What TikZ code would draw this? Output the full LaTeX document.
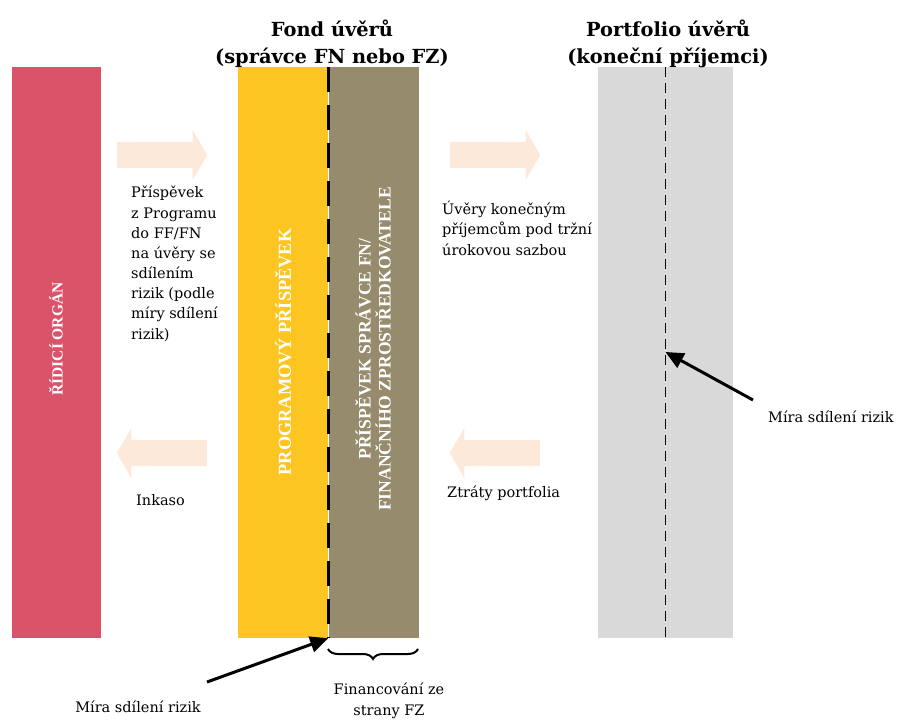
\documentclass[tikz,border=0pt]{standalone}
\usepackage{fontspec}
\setmainfont{Liberation Serif}
\newfontfamily\notefont{DejaVu Serif}
\usetikzlibrary{shapes.arrows,arrows.meta,decorations.pathreplacing}

\definecolor{orgred}{HTML}{DB5369}
\definecolor{progyellow}{HTML}{FDC521}
\definecolor{fmtaupe}{HTML}{968B6D}
\definecolor{portgray}{HTML}{D9D9D9}
\definecolor{flowpeach}{HTML}{FDE9D9}

\tikzset{
  bar/.style={inner sep=0pt, minimum height=571pt},
  vlabel/.style={rotate=90, text=white, font=\bfseries\fontsize{17.6}{20}\selectfont, align=center, inner sep=0pt},
  flow/.style={single arrow, fill=flowpeach, draw=none, inner xsep=0pt, inner ysep=13pt,
    minimum height=90pt, minimum width=0pt, single arrow head extend=12pt,
    single arrow tip angle=120, anchor=tail},
  note/.style={font=\notefont\fontsize{14.5}{20.2}\selectfont, align=left, inner sep=0pt, anchor=north west},
  title/.style={font=\notefont\bfseries\fontsize{19.4}{27}\selectfont, align=center, inner sep=0pt},
  pointer/.style={line width=3pt, -{Triangle[length=18pt,width=16pt]}}
}

\begin{document}
\begin{tikzpicture}[x=1pt,y=-1pt]
	\useasboundingbox (0,0) rectangle (898,720);

	% bars
	\node[bar, fill=orgred, minimum width=89pt] (organ) at (56.5,352.5) {};
	\node[bar, fill=progyellow, minimum width=90pt] (program) at (283,352.5) {};
	\node[bar, fill=fmtaupe, minimum width=91pt] (manager) at (373.5,352.5) {};
	\node[bar, fill=portgray, minimum width=135pt] (portfolio) at (665.5,352.5) {};

	\node[vlabel, font=\bfseries\fontsize{15.5}{18}\selectfont] (organlbl) at (56,339) {ŘÍDICÍ ORGÁN};
	\node[vlabel, font=\bfseries\fontsize{18.3}{22}\selectfont] (proglbl) at (283,352) {PROGRAMOVÝ PŘÍSPĚVEK};
	\node[vlabel] (mgrlbl) at (373,349) {PŘÍSPĚVEK SPRÁVCE FN/\\FINANČNÍHO ZPROSTŘEDKOVATELE};

	% risk sharing lines
	\draw[white, line width=0.8pt] (program.north east) -- (program.south east);
	\draw[line width=3pt, dash pattern=on 25pt off 13pt] (program.north east) -- (program.south east);
	\draw[line width=1.2pt, dash pattern=on 10pt off 6pt] (portfolio.north) -- (portfolio.south);
	\coordinate (sharebot) at (program.south east);
	\coordinate (shareright) at (665.5,352);

	% titles
	\node[title] (fundtitle) at (332,44) {Fond úvěrů\\(správce FN nebo FZ)};
	\node[title] (porttitle) at (668,44) {Portfolio úvěrů\\(koneční příjemci)};

	% flows
	\node[flow] (contrib) at (117,155) {};
	\node[flow] (loans) at (450,155) {};
	\node[flow, shape border rotate=180] (recov) at (207,453) {};
	\node[flow, shape border rotate=180] (losses) at (540,453) {};

	\node[note] (contribtxt) at (131,186) {Příspěvek\\z Programu\\do FF/FN\\na úvěry se\\sdílením\\rizik (podle\\míry sdílení\\rizik)};
	\node[note] (loanstxt) at (442,201) {Úvěry konečným\\příjemcům pod tržní\\úrokovou sazbou};
	\node[note, anchor=base west] (recovtxt) at (136,505) {Inkaso};
	\node[note, anchor=base west] (lossestxt) at (447,497) {Ztráty portfolia};

	% risk sharing notes
	\node[note, anchor=base west] (rateright) at (768,422) {Míra sdílení rizik};
	\node[note, anchor=base] (ratebot) at (138,712) {Míra sdílení rizik};
	\draw[pointer] (753,400) -- (shareright);
	\draw[pointer] (207,682) -- (sharebot);

	% FZ financing
	\draw[decorate, decoration={brace, mirror, amplitude=10pt}, line width=2pt]
		(328,649) -- (418,649);
	\node[note, anchor=north, align=center] (fzfin) at (389,683) {Financování ze\\strany FZ};
\end{tikzpicture}
\end{document}
